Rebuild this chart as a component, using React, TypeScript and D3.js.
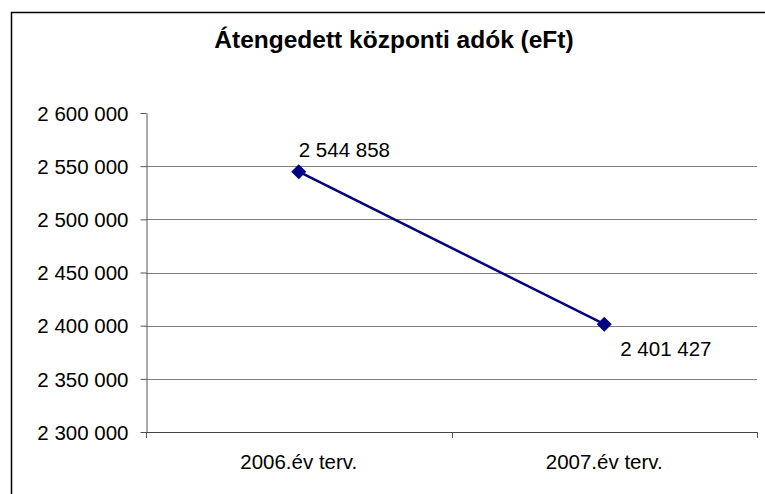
import React, { useEffect, useRef } from "react";
import * as d3 from "d3";

const title = "Átengedett központi adók (eFt)";
const categories = ["2006.év terv.", "2007.év terv."];
const values = [2544858, 2401427];
const yTicks = [2300000, 2350000, 2400000, 2450000, 2500000, 2550000, 2600000];

const width = 765;
const height = 494;
const font = "'Liberation Sans', Arial, sans-serif";

const huFormat = d3.formatLocale({
  decimal: ",",
  thousands: " ",
  grouping: [3],
  currency: ["", ""],
}).format(",");

export default function App() {
  const ref = useRef<SVGSVGElement | null>(null);

  useEffect(() => {
    if (!ref.current) return;
    const svg = d3.select(ref.current);
    svg.selectAll("*").remove();

    // plot area
    const left = 146;
    const right = 757;
    const top = 113;
    const bottom = 432;

    const x = d3.scaleBand<string>().domain(categories).range([left, right]).padding(0);
    const y = d3
      .scaleLinear()
      .domain([yTicks[0], yTicks[yTicks.length - 1]])
      .range([bottom, top]);
    const cx = (c: string) => (x(c) as number) + x.bandwidth() / 2;

    // outer frame (cut off at right and bottom)
    svg
      .append("rect")
      .attr("x", 11.5)
      .attr("y", 12.5)
      .attr("width", 800)
      .attr("height", 600)
      .attr("fill", "white")
      .attr("stroke", "#000")
      .attr("stroke-width", 1.5);

    // title
    svg
      .append("text")
      .attr("x", 394)
      .attr("y", 48)
      .attr("text-anchor", "middle")
      .attr("font-family", font)
      .attr("font-weight", "bold")
      .attr("font-size", 24.5)
      .text(title);

    // gridlines
    svg
      .append("g")
      .selectAll("line")
      .data(yTicks.slice(1, -1))
      .enter()
      .append("line")
      .attr("x1", left)
      .attr("x2", right)
      .attr("y1", (d) => Math.round(y(d)) + 0.5)
      .attr("y2", (d) => Math.round(y(d)) + 0.5)
      .attr("stroke", "#808080")
      .attr("stroke-width", 1);

    // y axis
    const yAxis = svg
      .append("g")
      .attr("transform", `translate(${left + 0.5},0)`)
      .call(
        d3
          .axisLeft(y)
          .tickValues(yTicks)
          .tickSize(6)
          .tickSizeOuter(0)
          .tickPadding(12)
          .tickFormat((d) => huFormat(d as number))
      );
    yAxis.select(".domain").attr("stroke", "#555");
    yAxis.selectAll(".tick line").attr("stroke", "#555");
    yAxis
      .selectAll(".tick text")
      .attr("font-family", font)
      .attr("font-size", 20.5)
      .attr("fill", "#000")
      .attr("dy", "0.35em");

    // x axis
    const xAxis = svg.append("g");
    xAxis
      .append("line")
      .attr("x1", left)
      .attr("x2", right)
      .attr("y1", bottom + 0.5)
      .attr("y2", bottom + 0.5)
      .attr("stroke", "#444");
    const bounds = [...categories.map((c) => x(c) as number), right];
    xAxis
      .selectAll(".btick")
      .data(bounds)
      .enter()
      .append("line")
      .attr("x1", (d) => Math.round(d) + 0.5)
      .attr("x2", (d) => Math.round(d) + 0.5)
      .attr("y1", bottom)
      .attr("y2", bottom + 6)
      .attr("stroke", "#555");
    xAxis
      .selectAll(".lbl")
      .data(categories)
      .enter()
      .append("text")
      .attr("x", (d) => cx(d))
      .attr("y", bottom + 37)
      .attr("text-anchor", "middle")
      .attr("font-family", font)
      .attr("font-size", 20.5)
      .text((d) => d);

    // line
    const pts = categories.map((c, i) => ({ c, v: values[i] }));
    svg
      .append("path")
      .datum(pts)
      .attr("fill", "none")
      .attr("stroke", "#000080")
      .attr("stroke-width", 2.5)
      .attr(
        "d",
        d3
          .line<{ c: string; v: number }>()
          .x((d) => cx(d.c))
          .y((d) => y(d.v))
      );

    // markers
    svg
      .selectAll(".dot")
      .data(pts)
      .enter()
      .append("path")
      .attr("transform", (d) => `translate(${cx(d.c)},${y(d.v)}) rotate(45)`)
      .attr("d", "M-5.3,-5.3H5.3V5.3H-5.3Z")
      .attr("fill", "#000080");

    // data labels
    const offsets = [
      { dx: 0, dy: -15 },
      { dx: 16, dy: 32 },
    ];
    svg
      .selectAll(".dl")
      .data(pts)
      .enter()
      .append("text")
      .attr("x", (d, i) => cx(d.c) + offsets[i].dx)
      .attr("y", (d, i) => y(d.v) + offsets[i].dy)
      .attr("font-family", font)
      .attr("font-size", 20.5)
      .text((d) => huFormat(d.v));
  }, []);

  return (
    <svg
      ref={ref}
      width={width}
      height={height}
      style={{ position: "absolute", left: 0, top: 0, background: "white" }}
    />
  );
}
